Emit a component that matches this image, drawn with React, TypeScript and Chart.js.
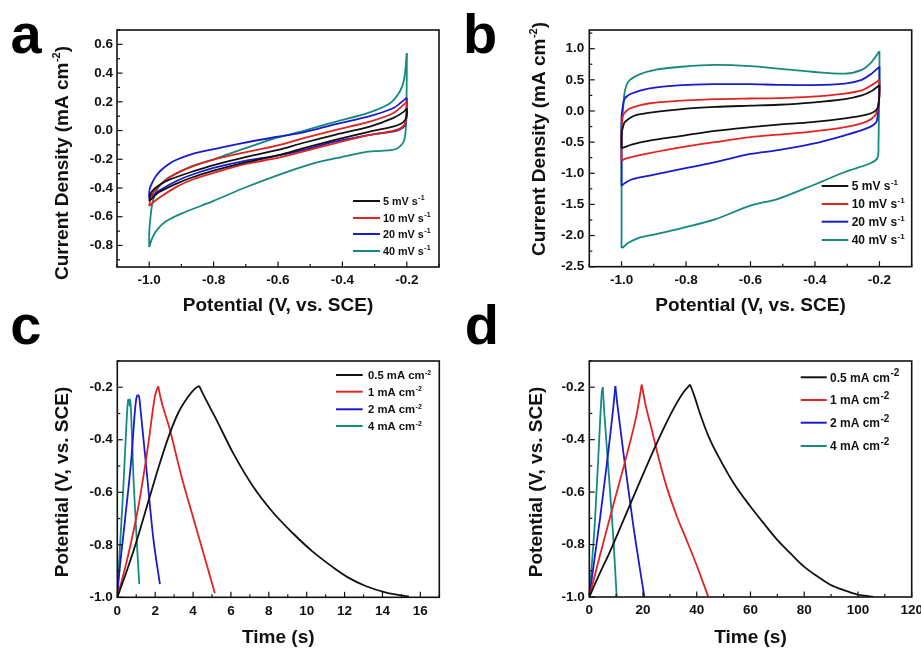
import React, { useEffect, useRef } from "react";
import { Chart, registerables } from "chart.js";

Chart.register(...registerables);

type Pt = [number, number];

// ---------- legend texts ----------
const cvRateLabels = ["5 mV s", "10 mV s", "20 mV s", "40 mV s"];
const cvRateSup = "-1";
const gcdCurrentLabels = ["0.5 mA cm", "1 mA cm", "2 mA cm", "4 mA cm"];
const gcdCurrentSup = "-2";

// ---------- panel a : CV loops (potential V, current density mA cm-2) ----------
const cvA5Up: Pt[] = [
  [-1.0, -0.49], [-0.997, -0.45], [-0.99, -0.42], [-0.975, -0.39], [-0.95, -0.355], [-0.917, -0.325],
  [-0.865, -0.285], [-0.8, -0.24], [-0.71, -0.19], [-0.6, -0.135], [-0.52, -0.085], [-0.42, -0.028],
  [-0.315, 0.028], [-0.243, 0.086], [-0.21, 0.13], [-0.2, 0.155],
];
const cvA5Down: Pt[] = [
  [-0.2, 0.155], [-0.2, 0.11], [-0.205, 0.074], [-0.22, 0.045], [-0.243, 0.028], [-0.315, -0.007],
  [-0.42, -0.064], [-0.52, -0.122], [-0.6, -0.172], [-0.71, -0.226], [-0.8, -0.279], [-0.865, -0.325],
  [-0.917, -0.371], [-0.97, -0.43], [-0.99, -0.47], [-1.0, -0.49],
];
const cvA10Up: Pt[] = [
  [-1.0, -0.525], [-0.997, -0.48], [-0.99, -0.44], [-0.975, -0.4], [-0.95, -0.35], [-0.917, -0.3],
  [-0.865, -0.25], [-0.8, -0.203], [-0.71, -0.156], [-0.6, -0.104], [-0.52, -0.053], [-0.42, 0.005],
  [-0.315, 0.062], [-0.243, 0.12], [-0.21, 0.18], [-0.2, 0.198],
];
const cvA10Down: Pt[] = [
  [-0.2, 0.198], [-0.2, 0.13], [-0.205, 0.05], [-0.22, 0.015], [-0.243, -0.002], [-0.315, -0.03],
  [-0.42, -0.087], [-0.52, -0.145], [-0.6, -0.191], [-0.71, -0.237], [-0.8, -0.295], [-0.865, -0.341],
  [-0.917, -0.394], [-0.97, -0.47], [-0.99, -0.505], [-1.0, -0.525],
];
const cvA20Up: Pt[] = [
  [-1.0, -0.47], [-1.0, -0.43], [-0.997, -0.395], [-0.99, -0.36], [-0.98, -0.32], [-0.965, -0.28],
  [-0.94, -0.235], [-0.917, -0.205], [-0.865, -0.162], [-0.8, -0.13], [-0.71, -0.087], [-0.6, -0.043],
  [-0.52, -0.012], [-0.42, 0.045], [-0.315, 0.1], [-0.243, 0.155], [-0.21, 0.21], [-0.2, 0.228],
];
const cvA20Down: Pt[] = [
  [-0.2, 0.228], [-0.2, 0.12], [-0.205, 0.04], [-0.22, 0.01], [-0.243, -0.007], [-0.315, -0.03],
  [-0.42, -0.076], [-0.52, -0.134], [-0.6, -0.173], [-0.71, -0.214], [-0.8, -0.26], [-0.865, -0.306],
  [-0.917, -0.353], [-0.97, -0.42], [-0.99, -0.455], [-1.0, -0.47],
];
const cvA40Up: Pt[] = [
  [-1.0, -0.81], [-1.0, -0.72], [-0.998, -0.65], [-0.992, -0.53], [-0.985, -0.46], [-0.97, -0.39],
  [-0.945, -0.335], [-0.917, -0.3], [-0.865, -0.245], [-0.8, -0.2], [-0.71, -0.13], [-0.6, -0.048],
  [-0.52, -0.002], [-0.42, 0.062], [-0.315, 0.127], [-0.252, 0.19], [-0.222, 0.27], [-0.21, 0.34],
  [-0.205, 0.41], [-0.2, 0.54],
];
const cvA40Down: Pt[] = [
  [-0.2, 0.54], [-0.2, 0.42], [-0.201, 0.2], [-0.203, 0.02], [-0.207, -0.06], [-0.215, -0.095],
  [-0.23, -0.125], [-0.25, -0.137], [-0.3, -0.143], [-0.33, -0.15], [-0.4, -0.183], [-0.5, -0.235],
  [-0.6, -0.31], [-0.7, -0.395], [-0.8, -0.49], [-0.9, -0.578], [-0.95, -0.635], [-0.975, -0.69],
  [-0.99, -0.745], [-1.0, -0.81],
];

// ---------- panel b : CV loops ----------
const cvB5Up: Pt[] = [
  [-1.0, -0.6], [-1.0, -0.45], [-0.999, -0.34], [-0.995, -0.25], [-0.99, -0.18], [-0.97, -0.1],
  [-0.95, -0.06], [-0.917, -0.03], [-0.813, 0.03], [-0.71, 0.065], [-0.6, 0.085], [-0.514, 0.1],
  [-0.41, 0.135], [-0.307, 0.19], [-0.255, 0.25], [-0.224, 0.32], [-0.2, 0.415],
];
const cvB5Down: Pt[] = [
  [-0.2, 0.415], [-0.2, 0.3], [-0.201, 0.2], [-0.205, 0.06], [-0.215, -0.01], [-0.24, -0.06],
  [-0.307, -0.12], [-0.41, -0.18], [-0.514, -0.22], [-0.6, -0.26], [-0.71, -0.32], [-0.813, -0.4],
  [-0.917, -0.48], [-0.969, -0.54], [-0.99, -0.58], [-1.0, -0.6],
];
const cvB10Up: Pt[] = [
  [-1.0, -0.8], [-1.0, -0.5], [-0.999, -0.23], [-0.995, -0.07], [-0.985, 0.0], [-0.97, 0.05],
  [-0.917, 0.12], [-0.813, 0.165], [-0.71, 0.19], [-0.6, 0.2], [-0.514, 0.205], [-0.41, 0.23],
  [-0.307, 0.28], [-0.255, 0.33], [-0.224, 0.415], [-0.2, 0.5],
];
const cvB10Down: Pt[] = [
  [-0.2, 0.5], [-0.2, 0.35], [-0.201, 0.2], [-0.205, 0.05], [-0.213, -0.07], [-0.24, -0.17],
  [-0.307, -0.26], [-0.41, -0.33], [-0.514, -0.38], [-0.6, -0.42], [-0.71, -0.5], [-0.813, -0.58],
  [-0.917, -0.68], [-0.969, -0.74], [-0.99, -0.77], [-1.0, -0.8],
];
const cvB20Up: Pt[] = [
  [-1.0, -1.2], [-1.0, -0.6], [-1.0, -0.1], [-0.997, 0.04], [-0.99, 0.2], [-0.969, 0.28],
  [-0.917, 0.36], [-0.813, 0.415], [-0.71, 0.43], [-0.6, 0.43], [-0.514, 0.42], [-0.41, 0.415],
  [-0.307, 0.44], [-0.255, 0.5], [-0.224, 0.6], [-0.2, 0.71],
];
const cvB20Down: Pt[] = [
  [-0.2, 0.71], [-0.2, 0.45], [-0.201, 0.2], [-0.204, 0.04], [-0.21, -0.18], [-0.24, -0.28],
  [-0.307, -0.39], [-0.41, -0.53], [-0.514, -0.63], [-0.6, -0.69], [-0.71, -0.82], [-0.813, -0.93],
  [-0.917, -1.04], [-0.969, -1.1], [-0.99, -1.16], [-1.0, -1.2],
];
const cvB40Up: Pt[] = [
  [-1.0, -2.2], [-1.0, -1.0], [-1.0, -0.23], [-0.995, 0.04], [-0.99, 0.31], [-0.979, 0.47],
  [-0.948, 0.58], [-0.896, 0.66], [-0.813, 0.71], [-0.71, 0.74], [-0.6, 0.72], [-0.514, 0.68],
  [-0.41, 0.63], [-0.307, 0.6], [-0.255, 0.66], [-0.224, 0.79], [-0.2, 0.96],
];
const cvB40Down: Pt[] = [
  [-0.2, 0.96], [-0.2, 0.5], [-0.202, -0.2], [-0.203, -0.5], [-0.206, -0.75], [-0.228, -0.84],
  [-0.307, -0.98], [-0.41, -1.2], [-0.514, -1.41], [-0.6, -1.52], [-0.71, -1.74], [-0.813, -1.88],
  [-0.896, -1.98], [-0.948, -2.04], [-0.98, -2.12], [-0.993, -2.18], [-1.0, -2.2],
];

// ---------- panel c : GCD (time s, potential V) ----------
const gcdC05Charge: Pt[] = [
  [0, -1.0], [0.5, -0.9], [1.0, -0.79], [1.7, -0.62], [2.2, -0.5], [2.7, -0.39], [3.2, -0.3],
  [3.7, -0.24], [4.1, -0.205], [4.32, -0.195],
];
const gcdC05Discharge: Pt[] = [
  [4.32, -0.195], [4.7, -0.25], [5.23, -0.323], [6.11, -0.45], [7.17, -0.578], [8.2, -0.675],
  [9.27, -0.756], [10.3, -0.825], [11.38, -0.885], [12.2, -0.925], [13.14, -0.958], [14.2, -0.982],
  [15.4, -0.997],
];
const gcdC1Charge: Pt[] = [
  [0, -1.0], [0.3, -0.92], [0.7, -0.8], [1.1, -0.66], [1.4, -0.53], [1.65, -0.41], [1.85, -0.3],
  [2.0, -0.23], [2.16, -0.196],
];
const gcdC1Discharge: Pt[] = [
  [2.16, -0.196], [2.3, -0.245], [2.77, -0.36], [3.39, -0.54], [4.04, -0.705], [4.7, -0.87], [5.15, -0.985],
];
const gcdC2Charge: Pt[] = [
  [0, -1.0], [0.05, -0.95], [0.4, -0.71], [0.76, -0.457], [0.93, -0.29], [1.0, -0.245], [1.07, -0.229],
];
const gcdC2Discharge: Pt[] = [
  [1.07, -0.229], [1.15, -0.235], [1.22, -0.28], [1.55, -0.52], [1.9, -0.775], [2.25, -0.95],
];
const gcdC4Charge: Pt[] = [
  [0, -1.0], [0.1, -0.86], [0.32, -0.58], [0.49, -0.33], [0.56, -0.255], [0.6, -0.245],
];
const gcdC4Discharge: Pt[] = [
  [0.6, -0.245], [0.64, -0.27], [0.68, -0.245], [0.73, -0.3], [0.84, -0.52], [1.02, -0.775], [1.16, -0.95],
];

// ---------- panel d : GCD ----------
const gcdD05Charge: Pt[] = [
  [0, -1.0], [3, -0.93], [8, -0.82], [13, -0.7], [18, -0.58], [23.5, -0.45], [28, -0.35],
  [32, -0.27], [35, -0.22], [37.5, -0.19],
];
const gcdD05Discharge: Pt[] = [
  [37.5, -0.19], [39, -0.23], [41.2, -0.3], [44.5, -0.39], [48.7, -0.476], [54, -0.57], [59.9, -0.654],
  [65, -0.72], [69.8, -0.78], [75, -0.835], [79.8, -0.883], [85, -0.922], [89.7, -0.953], [95, -0.975],
  [99.6, -0.99], [105.8, -1.0],
];
const gcdD1Charge: Pt[] = [
  [0, -1.0], [4, -0.84], [8.9, -0.65], [13.9, -0.46], [17.7, -0.3], [19.5, -0.19],
];
const gcdD1Discharge: Pt[] = [
  [19.5, -0.19], [21, -0.27], [23.2, -0.36], [25.8, -0.47], [28.8, -0.58], [32.5, -0.69], [36.3, -0.785],
  [40, -0.88], [44.3, -1.0],
];
const gcdD2Charge: Pt[] = [
  [0, -1.0], [2, -0.85], [4, -0.7], [6.5, -0.495], [8.9, -0.28], [9.7, -0.196],
];
const gcdD2Discharge: Pt[] = [
  [9.7, -0.196], [10.5, -0.27], [12.7, -0.45], [16.4, -0.73], [20.5, -1.0],
];
const gcdD4Charge: Pt[] = [
  [0, -1.0], [2.1, -0.71], [3.4, -0.457], [4.6, -0.228], [5.0, -0.2],
];
const gcdD4Discharge: Pt[] = [
  [5.0, -0.2], [5.6, -0.3], [7.1, -0.51], [8.9, -0.768], [10.2, -1.0],
];

// ---------- tick values ----------
const cvXTicks = [-1.0, -0.8, -0.6, -0.4, -0.2];
const aYTicks = [-0.8, -0.6, -0.4, -0.2, 0, 0.2, 0.4, 0.6];
const bYTicks = [-2.5, -2.0, -1.5, -1.0, -0.5, 0, 0.5, 1.0];
const gcdYTicks = [-1.0, -0.8, -0.6, -0.4, -0.2];
const cXTicks = [0, 2, 4, 6, 8, 10, 12, 14, 16];
const dXTicks = [0, 20, 40, 60, 80, 100, 120];

// ---------- styles ----------
const seriesColors = ["#111111", "#e2231f", "#1a1ad0", "#14897f"];
const FONT = '"Liberation Sans", Arial, Helvetica, sans-serif';
const INK = "#111111";

interface Part { t: string; sup?: boolean }

function drawRich(ctx: any, parts: Part[], x: number, baseline: number, size: number, supSize: number, rise: number, center: boolean) {
  const main = `bold ${size}px ${FONT}`;
  const small = `bold ${supSize}px ${FONT}`;
  const widths = parts.map((p) => {
    ctx.font = p.sup ? small : main;
    return ctx.measureText(p.t).width + (p.sup ? 0.5 : 0);
  });
  const total = widths.reduce((a, b) => a + b, 0);
  let cx = center ? x - total / 2 : x;
  ctx.textAlign = "left";
  ctx.textBaseline = "alphabetic";
  parts.forEach((p, i) => {
    ctx.font = p.sup ? small : main;
    ctx.fillText(p.t, cx + (p.sup ? 0.5 : 0), p.sup ? baseline - rise : baseline);
    cx += widths[i];
  });
}

interface PanelSpec {
  key: string;
  box: { left: number; top: number; width: number; height: number };
  plot: { left: number; top: number; right: number; bottom: number };
  series: Pt[][][];
  smooth: "cv" | "gcd";
  names: string[];
  sup: string;
  xMin: number; xMax: number; xTicks: number[]; xMinor: number; xDigits: number;
  xTitle: string; xTitlePad: number; xLabelPad: number;
  yMin: number; yMax: number; yTicks: number[]; yMinor: number; yDigits: number;
  yTitle: Part[]; yTitleX: number; yTitleY: number; yLabelPad: number;
  legend: { x1: number; x2: number; tx: number; rows: number[]; size: number; supSize: number; rise: number };
}

const cvYTitle: Part[] = [{ t: "Current Density (mA cm" }, { t: "-2", sup: true }, { t: ")" }];
const potYTitle: Part[] = [{ t: "Potential (V, vs. SCE)" }];

const panels: PanelSpec[] = [
  {
    key: "a",
    box: { left: 0, top: 0, width: 460, height: 320 },
    plot: { left: 117, top: 30, right: 439, bottom: 267 },
    series: [[cvA5Up, cvA5Down], [cvA10Up, cvA10Down], [cvA20Up, cvA20Down], [cvA40Up, cvA40Down]],
    smooth: "cv",
    names: cvRateLabels, sup: cvRateSup,
    xMin: -1.1, xMax: -0.1, xTicks: cvXTicks, xMinor: 0.1, xDigits: 1,
    xTitle: "Potential (V, vs. SCE)", xTitlePad: 4.5, xLabelPad: 5,
    yMin: -0.95, yMax: 0.7, yTicks: aYTicks, yMinor: 0.1, yDigits: 1,
    yTitle: cvYTitle, yTitleX: 68, yTitleY: 163, yLabelPad: 4,
    legend: { x1: 353, x2: 380, tx: 383, rows: [201, 218, 234, 251], size: 10.8, supSize: 7, rise: 4.5 },
  },
  {
    key: "b",
    box: { left: 460, top: 0, width: 461, height: 320 },
    plot: { left: 129.3, top: 30, right: 451.7, bottom: 266.7 },
    series: [[cvB5Up, cvB5Down], [cvB10Up, cvB10Down], [cvB20Up, cvB20Down], [cvB40Up, cvB40Down]],
    smooth: "cv",
    names: cvRateLabels, sup: cvRateSup,
    xMin: -1.1, xMax: -0.1, xTicks: cvXTicks, xMinor: 0.1, xDigits: 1,
    xTitle: "Potential (V, vs. SCE)", xTitlePad: 4.5, xLabelPad: 5,
    yMin: -2.5, yMax: 1.3, yTicks: bYTicks, yMinor: 0.25, yDigits: 1,
    yTitle: cvYTitle, yTitleX: 85, yTitleY: 139, yLabelPad: 5,
    legend: { x1: 361.7, x2: 388.3, tx: 391.7, rows: [186, 204, 221.7, 240], size: 12, supSize: 8, rise: 5 },
  },
  {
    key: "c",
    box: { left: 0, top: 320, width: 460, height: 329 },
    plot: { left: 117.3, top: 41, right: 439.3, bottom: 277.3 },
    series: [[gcdC05Charge, gcdC05Discharge], [gcdC1Charge, gcdC1Discharge], [gcdC2Charge, gcdC2Discharge], [gcdC4Charge, gcdC4Discharge]],
    smooth: "gcd",
    names: gcdCurrentLabels, sup: gcdCurrentSup,
    xMin: 0, xMax: 17, xTicks: cXTicks, xMinor: 1, xDigits: 0,
    xTitle: "Time (s)", xTitlePad: 2, xLabelPad: 5.5,
    yMin: -1.0, yMax: -0.1, yTicks: gcdYTicks, yMinor: 0.1, yDigits: 1,
    yTitle: potYTitle, yTitleX: 68, yTitleY: 162, yLabelPad: 4.5,
    legend: { x1: 336, x2: 362.7, tx: 368, rows: [55, 71.7, 89.3, 106], size: 11.3, supSize: 7, rise: 4.5 },
  },
  {
    key: "d",
    box: { left: 460, top: 320, width: 480, height: 329 },
    plot: { left: 129.3, top: 41, right: 451.7, bottom: 277 },
    series: [[gcdD05Charge, gcdD05Discharge], [gcdD1Charge, gcdD1Discharge], [gcdD2Charge, gcdD2Discharge], [gcdD4Charge, gcdD4Discharge]],
    smooth: "gcd",
    names: gcdCurrentLabels, sup: gcdCurrentSup,
    xMin: 0, xMax: 120, xTicks: dXTicks, xMinor: 10, xDigits: 0,
    xTitle: "Time (s)", xTitlePad: 2, xLabelPad: 5.5,
    yMin: -1.0, yMax: -0.1, yTicks: gcdYTicks, yMinor: 0.1, yDigits: 1,
    yTitle: potYTitle, yTitleX: 81.7, yTitleY: 162, yLabelPad: 4.5,
    legend: { x1: 340.7, x2: 366.7, tx: 370, rows: [57.3, 80, 102.7, 126], size: 12, supSize: 10, rise: 5.5 },
  },
];

function decorPlugin(s: PanelSpec) {
  return {
    id: "decor" + s.key,
    afterDraw(chart: any) {
      const { ctx, chartArea: a, scales } = chart;
      ctx.save();
      ctx.strokeStyle = INK;
      ctx.lineWidth = 1.2;
      const drawTicks = (scale: any, majors: number[], minor: number, horiz: boolean) => {
        const start = Math.ceil((scale.min - 1e-9) / minor);
        for (let k = start; k * minor <= scale.max + 1e-9; k++) {
          const v = k * minor;
          const isMajor = majors.some((m) => Math.abs(m - v) < minor * 1e-3);
          const len = isMajor ? 5.5 : 3;
          const p = scale.getPixelForValue(v);
          ctx.beginPath();
          if (horiz) {
            ctx.moveTo(p, a.bottom);
            ctx.lineTo(p, a.bottom - len);
          } else {
            ctx.moveTo(a.left, p);
            ctx.lineTo(a.left + len, p);
          }
          ctx.stroke();
        }
      };
      drawTicks(scales.x, s.xTicks, s.xMinor, true);
      drawTicks(scales.y, s.yTicks, s.yMinor, false);
      ctx.lineWidth = 1.6;
      ctx.strokeRect(a.left, a.top, a.right - a.left, a.bottom - a.top);
      const L = s.legend;
      s.names.forEach((name, i) => {
        const y = L.rows[i];
        ctx.strokeStyle = seriesColors[i];
        ctx.lineWidth = 2;
        ctx.beginPath();
        ctx.moveTo(L.x1, y);
        ctx.lineTo(L.x2, y);
        ctx.stroke();
        ctx.fillStyle = INK;
        drawRich(ctx, [{ t: name }, { t: s.sup, sup: true }], L.tx, y + 0.36 * L.size, L.size, L.supSize, L.rise, false);
      });
      ctx.fillStyle = INK;
      ctx.translate(s.yTitleX, s.yTitleY);
      ctx.rotate(-Math.PI / 2);
      drawRich(ctx, s.yTitle, 0, 0, 19, 11, 8, true);
      ctx.restore();
    },
  };
}

function makeChart(canvas: HTMLCanvasElement, s: PanelSpec) {
  const yW = s.plot.left;
  const xH = s.box.height - s.plot.bottom;
  const tickFont = { family: FONT, size: 13.5, weight: "bold", lineHeight: 1.2 };
  const datasets: any[] = [];
  s.series.forEach((branches, i) => {
    branches.forEach((pts, j) => {
      datasets.push({
        label: s.names[i] + (j === 0 ? "" : " (return)"),
        data: pts.map(([x, y]) => ({ x, y })),
        showLine: true,
        borderColor: seriesColors[i],
        backgroundColor: seriesColors[i],
        borderWidth: 1.8,
        borderJoinStyle: "round",
        pointRadius: 0,
        pointHoverRadius: 0,
        tension: s.smooth === "cv" ? 0.3 : 0.4,
        cubicInterpolationMode: s.smooth === "gcd" ? "monotone" : "default",
        fill: false,
      });
    });
  });
  return new Chart(canvas, {
    type: "scatter",
    data: { datasets },
    options: {
      responsive: false,
      animation: false,
      events: [],
      layout: { padding: { left: 0, top: s.plot.top, right: s.box.width - s.plot.right, bottom: 0 } },
      plugins: { legend: { display: false }, tooltip: { enabled: false } },
      scales: {
        x: {
          type: "linear",
          position: "bottom",
          min: s.xMin,
          max: s.xMax,
          afterBuildTicks: (sc: any) => { sc.ticks = s.xTicks.map((v) => ({ value: v })); },
          afterFit: (sc: any) => { sc.height = xH; },
          grid: { display: false, drawTicks: false },
          border: { display: false },
          ticks: {
            autoSkip: false, maxRotation: 0, padding: s.xLabelPad, color: INK, font: tickFont,
            callback: (v: any) => Number(v).toFixed(s.xDigits),
          },
          title: {
            display: true, text: s.xTitle, color: INK,
            font: { family: FONT, size: 19, weight: "bold", lineHeight: 1 },
            padding: { top: 0, bottom: s.xTitlePad },
          },
        },
        y: {
          type: "linear",
          position: "left",
          min: s.yMin,
          max: s.yMax,
          afterBuildTicks: (sc: any) => { sc.ticks = s.yTicks.map((v) => ({ value: v })); },
          afterFit: (sc: any) => { sc.width = yW; },
          grid: { display: false, drawTicks: false },
          border: { display: false },
          ticks: {
            autoSkip: false, padding: s.yLabelPad, color: INK, font: tickFont,
            callback: (v: any) => Number(v).toFixed(s.yDigits),
          },
        },
      },
    } as any,
    plugins: [decorPlugin(s)],
  } as any);
}

function Panel({ spec }: { spec: PanelSpec }) {
  const ref = useRef<HTMLCanvasElement>(null);
  useEffect(() => {
    const chart = makeChart(ref.current as HTMLCanvasElement, spec);
    return () => chart.destroy();
  }, [spec]);
  return (
    <canvas
      ref={ref}
      width={spec.box.width}
      height={spec.box.height}
      style={{ position: "absolute", left: spec.box.left, top: spec.box.top, width: spec.box.width, height: spec.box.height }}
    />
  );
}

const letterStyle = (left: number, top: number): React.CSSProperties => ({
  position: "absolute", left, top, fontFamily: FONT, fontWeight: "bold", fontSize: 56, lineHeight: "56px", color: "#000",
});

export default function App() {
  return (
    <div style={{ position: "absolute", left: 0, top: 0, width: 921, height: 649, overflow: "hidden", background: "#fff" }}>
      {panels.map((p) => <Panel key={p.key} spec={p} />)}
      <div style={letterStyle(10.5, 5.6)}>a</div>
      <div style={letterStyle(463, 5.6)}>b</div>
      <div style={letterStyle(10.2, 296.6)}>c</div>
      <div style={letterStyle(464.7, 296.6)}>d</div>
    </div>
  );
}
